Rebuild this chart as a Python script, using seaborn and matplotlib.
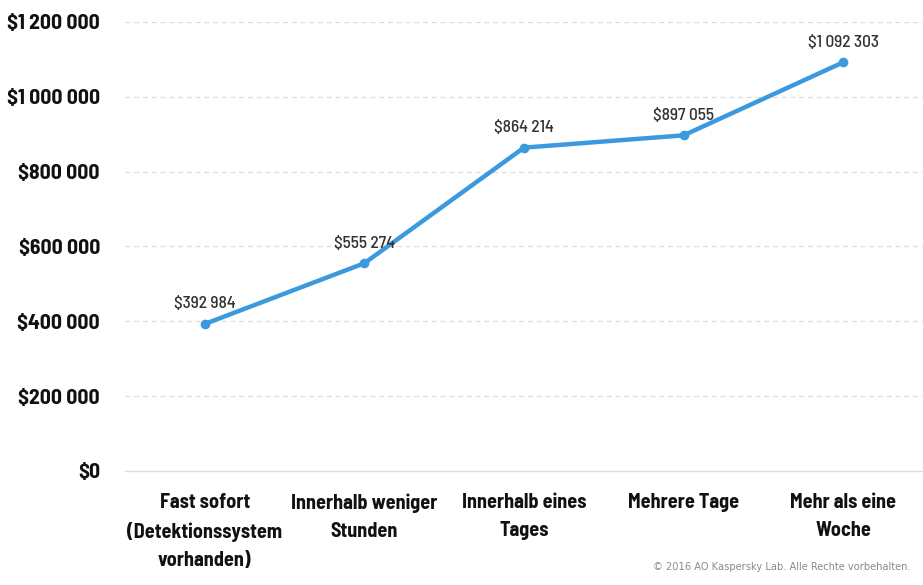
import matplotlib
matplotlib.use("Agg")
import matplotlib.pyplot as plt
import pandas as pd
import seaborn as sns
from matplotlib.ticker import FuncFormatter

# Data
categories = [
    "Fast sofort\n(Detektionssystem\nvorhanden)",
    "Innerhalb weniger\nStunden",
    "Innerhalb eines\nTages",
    "Mehrere Tage",
    "Mehr als eine\nWoche",
]
values = [392984, 555274, 864214, 897055, 1092303]
y_ticks = [0, 200000, 400000, 600000, 800000, 1000000, 1200000]

df = pd.DataFrame({"category": categories, "value": values})

sns.set_theme(style="white")
plt.rcParams["font.family"] = ["Barlow Semi Condensed", "Liberation Sans Narrow", "DejaVu Sans"]

fig = plt.figure(figsize=(9.23, 5.85), dpi=100)
ax = fig.add_axes([0.1354, 0.1949, 0.8646, 0.7675])

line_color = "#3b9ade"
sns.lineplot(data=df, x="category", y="value", sort=False, color=line_color,
             linewidth=3.2, marker="o", markersize=7, markeredgewidth=0, ax=ax)

def money(v, pos=None):
    s = f"{int(round(v)):,}".replace(",", " ")
    return "$" + s

for i, v in enumerate(values):
    ax.annotate(money(v), (i, v), xytext=(0, 9), textcoords="offset points",
                ha="center", va="bottom", fontsize=12.5, color="#333333",
                fontweight="medium")

ax.set_xlim(-0.5, len(categories) - 0.5)
ax.set_ylim(0, 1200000)
ax.set_yticks(y_ticks)
ax.yaxis.set_major_formatter(FuncFormatter(money))
ax.grid(axis="y", color="#dddddd", linestyle=(0, (4, 3)), linewidth=0.9)
ax.grid(axis="x", visible=False)

for side in ["top", "right", "left"]:
    ax.spines[side].set_visible(False)
ax.spines["bottom"].set_color("#dddddd")
ax.spines["bottom"].set_linewidth(1)

ax.tick_params(axis="y", length=0, pad=18, labelsize=15.5)
ax.tick_params(axis="x", length=0, pad=16, labelsize=14.5)
for lbl in ax.get_yticklabels() + ax.get_xticklabels():
    lbl.set_fontweight("bold")
    lbl.set_color("#111111")
for lbl in ax.get_xticklabels():
    lbl.set_linespacing(1.6)

ax.set_xlabel("")
ax.set_ylabel("")

fig.text(0.986, 0.022, "\u00a9 2016 AO Kaspersky Lab. Alle Rechte vorbehalten.",
         ha="right", va="bottom", fontsize=7.1, color="#8a8a8a",
         family=["DejaVu Sans"])

fig.savefig("out.png", dpi=100)
